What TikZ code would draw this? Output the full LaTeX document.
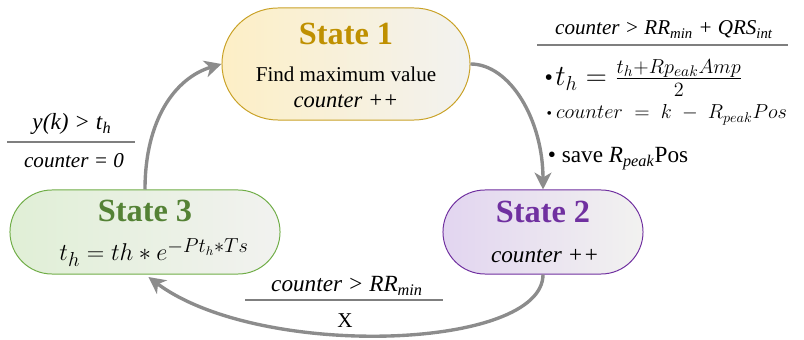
\documentclass[tikz,border=0pt]{standalone}
\usepackage{amsmath}
\usepackage{fontspec}
\setmainfont{Liberation Serif}[
    BoldFont={Liberation Serif Bold},
    ItalicFont={Liberation Serif Italic},
    BoldItalicFont={Liberation Serif Bold Italic}]
\usepackage{tikz}
\usetikzlibrary{shapes.misc, arrows.meta, positioning}

\definecolor{flowgray}{HTML}{8C8C8C}
\definecolor{rulegray}{HTML}{7F7F7F}
\definecolor{goldline}{HTML}{C9A227}
\definecolor{goldtext}{HTML}{BF9000}
\definecolor{goldfill}{HTML}{FDEFC6}
\definecolor{greenline}{HTML}{70AD47}
\definecolor{greentext}{HTML}{548235}
\definecolor{greenfill}{HTML}{E0EFD6}
\definecolor{purpleline}{HTML}{7030A0}
\definecolor{purpletext}{HTML}{7030A0}
\definecolor{purplefill}{HTML}{E2D5F0}
\definecolor{greyfill}{HTML}{F2F2F0}

\tikzset{
    state/.style={rounded rectangle, draw, line width=0.7pt, inner sep=0pt},
    flow/.style={draw=flowgray, line width=2.4pt, -{Stealth[length=12pt,width=12pt,inset=3.5pt]}},
    rule/.style={draw=rulegray, line width=1pt},
    title/.style={anchor=base, font=\fontsize{23}{27}\selectfont\bfseries},
    body/.style={anchor=base, font=\fontsize{15}{18}\selectfont}
}

\begin{document}
\begin{tikzpicture}[x=0.025cm, y=-0.025cm]
                \useasboundingbox (0,0) rectangle (804,340);

                % states
                \node[state, draw=goldline, left color=goldfill, right color=greyfill,
                      minimum width=6.2cm, minimum height=2.8cm] (s1) at (346,64) {};
                \node[state, draw=purpleline, left color=purplefill, right color=greyfill,
                      minimum width=5cm, minimum height=2.1cm] (s2) at (543,232) {};
                \node[state, draw=greenline, left color=greenfill, right color=greyfill,
                      minimum width=6.75cm, minimum height=2.1cm] (s3) at (145,232) {};

                \node[title, text=goldtext] (s1title) at (346,45) {State 1};
                \node[body] (s1find) at (346,82) {Find maximum value};
                \node[body, font=\fontsize{16}{19}\selectfont] (s1count) at (346,108) {\textit{counter ++}};

                \node[title, text=purpletext] (s2title) at (543,223) {State 2};
                \node[body, font=\fontsize{16.5}{19}\selectfont] (s2count) at (545,263) {\textit{counter ++}};

                \node[title, text=greentext] (s3title) at (145,222) {State 3};
                \node[anchor=base, font=\fontsize{19}{22}\selectfont] (s3eq) at (154,261)
                    {$t_h = th \ast e^{-Pt_h\ast Ts}$};

                % transitions
                \draw[flow] (s3.north) .. controls (145,120) and (175,78) .. (s1.west);
                \draw[flow] (s1.east) .. controls (510,64) and (543,120) .. (s2.north);
                \draw[flow, shorten >=3pt] (s2.south) .. controls (543,350) and (260,360) .. (s3.south);

                % guard / action labels
                \node[body, font=\fontsize{16.5}{19}\selectfont] (g31) at (72,130) {\textit{y(k) > t}\textsubscript{\textit{h}}};
                \draw[rule] (7,142) -- (135,142);
                \node[body] (a31) at (74,168) {\textit{counter = 0}};

                \node[body] (g12) at (664,35) {\textit{counter > RR\textsubscript{min} + QRS\textsubscript{int}}};
                \draw[rule] (537,45) -- (788,45);
                \node[anchor=base west, inner sep=1pt] (a12th) at (543,86)
                    {{\fontsize{17}{20}\selectfont\textbullet}\,{\fontsize{22}{24}\selectfont$t_h = \frac{t_h+Rp_{eak}Amp}{2}$}};
                \node[anchor=base west, inner sep=1pt] (a12cnt) at (545,119)
                    {{\fontsize{11}{13}\selectfont\textbullet}\;{\fontsize{14.5}{17}\selectfont$counter \;=\; k \;-\; R_{peak}Pos$}};
                \node[anchor=base west, font=\fontsize{16.5}{19}\selectfont] (a12pos) at (543,163)
                    {\textbullet\ save \textit{R}\textsubscript{\textit{peak}}Pos};

                \node[body, font=\fontsize{16.5}{19}\selectfont] (g23) at (347,292) {\textit{counter > RR\textsubscript{min}}};
                \draw[rule] (245,300) -- (443,300);
                \node[body] (a23) at (345,328) {X};
\end{tikzpicture}
\end{document}
